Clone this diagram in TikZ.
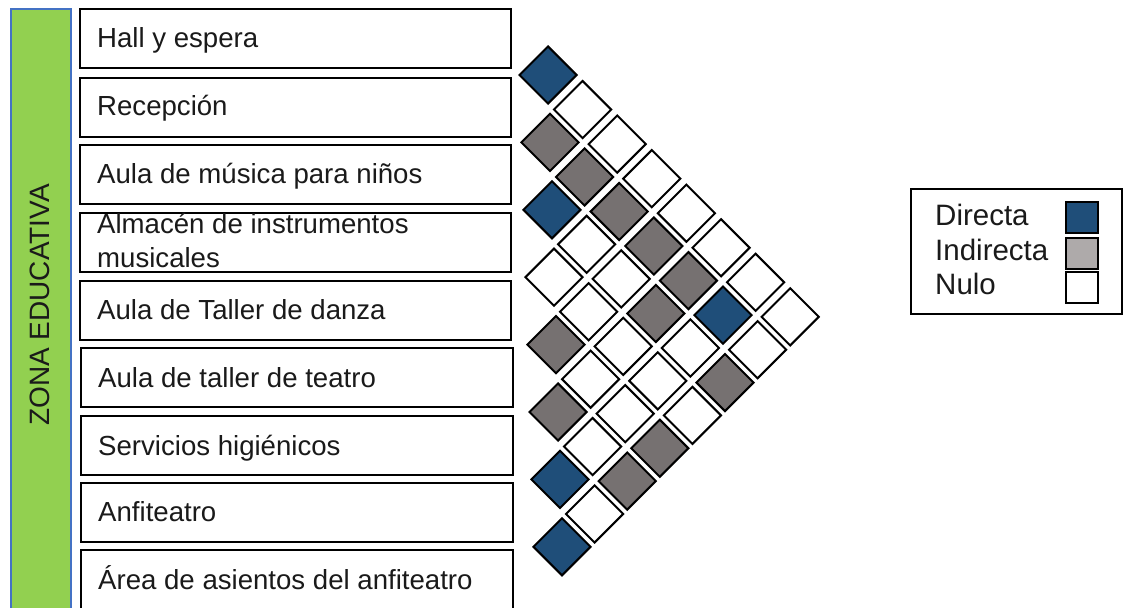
\documentclass[tikz,border=0pt]{standalone}
\usepackage{fontspec}
\setmainfont{Liberation Sans}
\usetikzlibrary{shapes.geometric}
\definecolor{dblue}{HTML}{1F4E79}
\definecolor{mgray}{HTML}{767171}
\definecolor{lgray}{HTML}{AEAAAA}
\definecolor{zgreen}{HTML}{92D050}
\definecolor{zborder}{HTML}{4472C4}
\definecolor{ztext}{HTML}{1A1A1A}
\begin{document}
\begin{tikzpicture}[x=1pt,y=-1pt,
  itembox/.style={draw=black, line width=2.4pt, fill=white, anchor=north west,
    minimum width=431pt, minimum height=59pt, inner sep=0},
  itemtext/.style={anchor=base west, inner sep=0, text=ztext,
    font=\fontsize{27.6}{34}\selectfont},
  cell/.style={shape=diamond, draw=black, line width=2pt,
    minimum width=58pt, minimum height=58pt, inner sep=0},
  legsq/.style={draw=black, line width=2.4pt, minimum width=32pt,
    minimum height=31pt, inner sep=0},
  legtext/.style={anchor=base west, inner sep=0, text=ztext,
    font=\fontsize{29.5}{34}\selectfont}]
\useasboundingbox (0,0) rectangle (1125,608);
\fill[white] (0,0) rectangle (1125,608);

% green zone bar
\node[draw=zborder, fill=zgreen, line width=1.8pt, anchor=north west,
  minimum width=60pt, minimum height=640pt, inner sep=0] (zona) at (10,8) {};
\node[rotate=90, inner sep=0, text=ztext, font=\fontsize{28}{34}\selectfont]
  (zonatext) at (40,305) {ZONA EDUCATIVA};

% item boxes
\node[itembox] (b1) at (79,8) {};
\node[itembox] (b2) at (79,77) {};
\node[itembox] (b3) at (79,144) {};
\node[itembox] (b4) at (79,212) {};
\node[itembox] (b5) at (79,280) {};
\node[itembox, minimum width=432pt] (b6) at (80,347) {};
\node[itembox, minimum width=432pt] (b7) at (80,415) {};
\node[itembox, minimum width=432pt] (b8) at (80,482) {};
\node[itembox, minimum width=432pt, minimum height=80pt] (b9) at (80,549) {};

\node[itemtext] (t1) at (97,47.5) {Hall y espera};
\node[itemtext] (t2) at (97,115.5) {Recepción};
\node[itemtext] (t3) at (97,183.5) {Aula de música para niños};
\node[itemtext] (t4a) at (97,233) {Almacén de instrumentos};
\node[itemtext] (t4b) at (97,267) {musicales};
\node[itemtext] (t5) at (97,319) {Aula de Taller de danza};
\node[itemtext] (t6) at (98,387) {Aula de taller de teatro};
\node[itemtext] (t7) at (98,455) {Servicios higiénicos};
\node[itemtext] (t8) at (98,521.5) {Anfiteatro};
\node[itemtext] (t9) at (98,589) {Área de asientos del anfiteatro};

% relation matrix
\foreach \i/\j/\c in {1/2/dblue,1/3/white,1/4/white,1/5/white,1/6/white,1/7/white,1/8/white,1/9/white,
  2/3/mgray,2/4/mgray,2/5/mgray,2/6/mgray,2/7/mgray,2/8/dblue,2/9/white,
  3/4/dblue,3/5/white,3/6/white,3/7/mgray,3/8/white,3/9/mgray,
  4/5/white,4/6/white,4/7/white,4/8/white,4/9/white,
  5/6/mgray,5/7/white,5/8/white,5/9/mgray,
  6/7/mgray,6/8/white,6/9/mgray,
  7/8/dblue,7/9/white,
  8/9/dblue}{
  \pgfmathsetmacro\dd{\j-\i-1}
  \pgfmathsetmacro\uu{\i+\j-3}
  \pgfmathsetmacro\px{548+33.6*\dd+1.0*\uu}
  \pgfmathsetmacro\py{75+33.7*\uu+0.85*\dd}
  \node[cell, fill=\c] (c\i\j) at (\px,\py) {};
}

% legend
\node[draw=black, line width=2pt, anchor=north west, minimum width=211pt,
  minimum height=125pt, inner sep=0] (legend) at (910,188) {};
\node[legtext] (ld) at (935,225) {Directa};
\node[legtext] (li) at (935,260.5) {Indirecta};
\node[legtext] (ln) at (935,294) {Nulo};
\node[legsq, fill=dblue] (sd) at (1082,217.5) {};
\node[legsq, fill=lgray] (si) at (1082,253.5) {};
\node[legsq, fill=white] (sn) at (1082,287.5) {};
\end{tikzpicture}
\end{document}
